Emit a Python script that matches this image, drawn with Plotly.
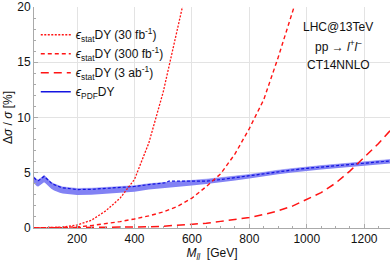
import plotly.graph_objects as go

# ---- data ----
m_pdf = [50, 55, 60, 65, 70, 75, 80, 85, 90, 95, 100, 110, 120, 130, 140, 150, 175, 200,
         250, 300, 350, 400, 450, 500, 510, 520, 530, 550, 600, 650, 700, 750, 800, 850,
         900, 950, 1000, 1050, 1100, 1150, 1200, 1250, 1290]
pdf_lo = [4.05, 3.9, 3.78, 3.75, 3.85, 4.0, 4.12, 4.15, 4.05, 3.9, 3.75, 3.55, 3.4, 3.28,
          3.2, 3.12, 3.03, 2.98, 3.0, 3.09, 3.19, 3.29, 3.49, 3.63, 3.65, 3.67, 3.69, 3.74,
          3.85, 3.98, 4.11, 4.3, 4.47, 4.7, 4.87, 5.02, 5.17, 5.29, 5.4, 5.52, 5.62, 5.74, 5.84]
pdf_hi = [4.65, 4.5, 4.38, 4.35, 4.45, 4.6, 4.72, 4.75, 4.65, 4.5, 4.35, 4.15, 4.0, 3.88,
          3.8, 3.72, 3.63, 3.58, 3.6, 3.67, 3.75, 3.83, 4.01, 4.13, 4.15, 4.17, 4.19, 4.22,
          4.31, 4.42, 4.53, 4.7, 4.85, 5.06, 5.23, 5.38, 5.53, 5.65, 5.76, 5.88, 5.98, 6.1, 6.2]
pdf_line = [4.55, 4.4, 4.3, 4.28, 4.38, 4.52, 4.65, 4.67, 4.55, 4.42, 4.28, 4.08, 3.92, 3.8,
            3.72, 3.64, 3.55, 3.48, 3.5, 3.58, 3.67, 3.76, 3.93, 4.05, 4.1, 4.25, 4.25, 4.22,
            4.22, 4.24, 4.38, 4.56, 4.72, 4.93, 5.1, 5.25, 5.4, 5.52, 5.63, 5.75, 5.85, 5.97, 6.07]

m_30fb = [50, 100, 150, 200, 250, 300, 350, 400, 450, 500, 550, 580]
stat_30fb = [0.0, 0.02, 0.08, 0.27, 0.7, 1.55, 2.7, 4.4, 7.7, 12.3, 17.8, 21.5]

m_300fb = [50, 150, 200, 250, 300, 350, 400, 450, 500, 550, 600, 650, 700, 750, 800, 850,
           900, 950, 980]
stat_300fb = [0.0, 0.03, 0.1, 0.22, 0.38, 0.58, 0.82, 1.1, 1.45, 1.95, 2.7, 3.75, 4.9, 6.7,
              9.0, 11.6, 15.4, 19.6, 22.0]

m_3ab = [50, 200, 300, 400, 450, 500, 550, 600, 650, 700, 750, 800, 850, 900, 950, 1000,
         1050, 1100, 1150, 1200, 1250, 1290]
stat_3ab = [0.0, 0.02, 0.04, 0.08, 0.11, 0.16, 0.23, 0.32, 0.43, 0.6, 0.77, 0.95, 1.22, 1.55,
            1.98, 2.57, 3.2, 4.05, 5.15, 6.4, 7.65, 8.8]

x_ticks = [200, 400, 600, 800, 1000, 1200]
y_ticks = [0, 5, 10, 15, 20]

names = ["<i>ϵ</i><sub>stat</sub>DY (30 fb<sup>-1</sup>)",
         "<i>ϵ</i><sub>stat</sub>DY (300 fb<sup>-1</sup>)",
         "<i>ϵ</i><sub>stat</sub>DY (3 ab<sup>-1</sup>)",
         "<i>ϵ</i><sub>PDF</sub>DY"]

RED = "rgb(255,20,20)"
BAND = "rgb(130,130,244)"
BLUE = "rgb(20,20,225)"

fig = go.Figure()
fig.add_trace(go.Scatter(x=m_pdf, y=pdf_lo, mode="lines", line=dict(width=0, color=BAND),
                         showlegend=False, hoverinfo="skip"))
fig.add_trace(go.Scatter(x=m_pdf, y=pdf_hi, mode="lines", fill="tonexty", fillcolor=BAND,
                         line=dict(width=0.5, color=BAND), showlegend=False))
fig.add_trace(go.Scatter(x=m_pdf, y=pdf_line, mode="lines",
                         line=dict(color=BLUE, width=1.2, dash="3px,2px"), showlegend=False))
fig.add_trace(go.Scatter(x=m_30fb, y=stat_30fb, mode="lines", name=names[0],
                         line=dict(color=RED, width=1.3, dash="2px,1.5px")))
fig.add_trace(go.Scatter(x=m_300fb, y=stat_300fb, mode="lines", name=names[1],
                         line=dict(color=RED, width=1.4, dash="4px,3px")))
fig.add_trace(go.Scatter(x=m_3ab, y=stat_3ab, mode="lines", name=names[2],
                         line=dict(color=RED, width=1.5, dash="8px,5px")))
fig.add_trace(go.Scatter(x=[None], y=[None], mode="lines", name=names[3],
                         line=dict(color=BLUE, width=1.3)))

axis_common = dict(showgrid=True, gridcolor="#e3e3e3", gridwidth=1, ticks="inside", ticklen=4,
                   tickcolor="#aaaaaa", showline=True, linecolor="#aaaaaa", linewidth=1,
                   zeroline=False, tickfont=dict(size=12, color="#111"), automargin=False)

fig.update_layout(
    width=390, height=264,
    margin=dict(l=34, r=0, t=7, b=36),
    plot_bgcolor="white", paper_bgcolor="white",
    font=dict(family="Liberation Sans, Arial, sans-serif", size=12, color="#111"),
    showlegend=True,
    legend=dict(x=0.005, y=0.94, xanchor="left", yanchor="top", bgcolor="rgba(0,0,0,0)",
                font=dict(size=12), itemwidth=30, tracegroupgap=0, traceorder="normal"),
    xaxis=dict(range=[50, 1290], tickvals=x_ticks,
               minor=dict(dtick=50, tick0=0, ticks="inside", ticklen=2, tickcolor="#aaaaaa",
                          showgrid=False),
               title=dict(text="<i>M<sub>ll</sub></i>  [GeV]", standoff=2, font=dict(size=12)),
               **axis_common),
    yaxis=dict(range=[0, 20], tickvals=y_ticks,
               minor=dict(dtick=1, tick0=0, ticks="inside", ticklen=2, tickcolor="#aaaaaa",
                          showgrid=False),
               title=dict(text="Δ<i>σ</i> / <i>σ</i> [%]", standoff=2, font=dict(size=12)),
               **axis_common),
)

for txt, yy in [("LHC@13TeV", 0.91), ("pp → <i>l</i><sup>+</sup><i>l</i><sup>−</sup>", 0.824),
                ("CT14NNLO", 0.738)]:
    fig.add_annotation(x=0.854, y=yy, xref="paper", yref="paper", text=txt, showarrow=False,
                       font=dict(size=12, color="#111"), xanchor="center", yanchor="middle")

fig.write_html("out.html", config={"displayModeBar": False},
               post_script="document.body.style.margin='0';document.body.style.overflow='hidden';")
